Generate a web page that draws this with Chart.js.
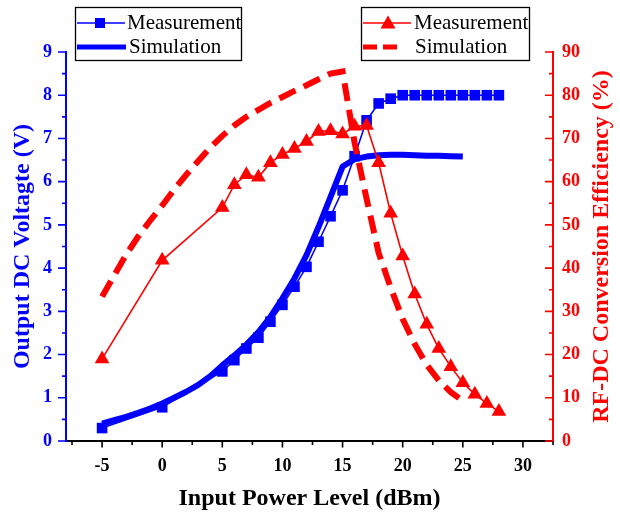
<!DOCTYPE html>
<html>
<head>
<meta charset="utf-8">
<script src="https://cdn.jsdelivr.net/npm/chart.js@4.4.1/dist/chart.umd.min.js"></script>
<style>
html,body{margin:0;padding:0;background:#fff;}
#wrap{width:620px;height:514px;position:relative;}
canvas{display:block;}
</style>
</head>
<body>
<div id="wrap"><canvas id="c" width="620" height="514"></canvas></div>
<script>
// ---------- data ----------
const xMeasured = [-5,0,5,6,7,8,9,10,11,12,13,14,15,16,17,18,19,20,21,22,23,24,25,26,27,28];
const voltageMeasured = [0.30,0.78,1.61,1.87,2.14,2.39,2.76,3.15,3.57,4.03,4.61,5.20,5.80,6.59,7.42,7.81,7.92,8.00,8.00,8.00,8.00,8.00,8.00,8.00,8.00,8.00];
const effMeasured = [19.0,41.8,54.0,59.3,61.6,61.0,64.4,66.3,67.7,69.3,71.6,71.8,71.0,72.8,73.0,64.4,52.7,42.8,34.0,27.0,21.4,17.2,13.5,10.8,8.7,6.8];

const xSimulated = [-5,-4,-3,-2,-1,0,1,2,3,4,5,6,7,8,9,10,11,12,13,14,15,16,17,18,19,20,21,22,23,24,25];
const voltageSimulated = [0.40,0.48,0.56,0.65,0.75,0.87,1.00,1.14,1.30,1.50,1.75,1.98,2.23,2.52,2.87,3.30,3.76,4.30,4.95,5.65,6.35,6.52,6.58,6.61,6.62,6.62,6.61,6.60,6.60,6.59,6.58];
const effSimulated = [33.4,38.3,43.1,47.3,51.0,54.5,58.2,61.6,64.8,67.9,70.6,73.0,75.0,76.6,78.2,79.6,81.0,82.3,83.7,85.0,85.5,69.0,56.0,43.5,35.5,28.2,22.4,17.6,14.0,11.3,9.3];

const xTickValues = [-5,0,5,10,15,20,25,30];
const xMinorValues = [-7.5,-2.5,2.5,7.5,12.5,17.5,22.5,27.5,32.5];
const yTickValues = [0,1,2,3,4,5,6,7,8,9];
const yMinorValues = [0.5,1.5,2.5,3.5,4.5,5.5,6.5,7.5,8.5];
const y1TickValues = [0,10,20,30,40,50,60,70,80,90];
const y1MinorValues = [5,15,25,35,45,55,65,75,85];

const legendLabelsLeft = ['Measurement','Simulation'];
const legendLabelsRight = ['Measurement','Simulation'];
const rightAxisTitle = 'RF-DC Conversion Efficiency (%)';

// ---------- styles ----------
const BLUE = '#0000ff';
const RED = '#ff0000';
const SERIF = "'Liberation Serif','Times New Roman',serif";

const toXY = (xs, ys) => xs.map((x, i) => ({x: x, y: ys[i]}));

// tick marks (major + minor) drawn from the scales, plus right-axis title
const tickPlugin = {
  id: 'axisTickMarks',
  afterDraw(chart) {
    const {ctx, chartArea: ca, scales} = chart;
    const sx = scales.x, sy = scales.y, sy1 = scales.y1;
    ctx.save();
    ctx.lineWidth = 1.6;
    ctx.strokeStyle = '#000';
    ctx.beginPath();
    xTickValues.forEach(v => { const p = sx.getPixelForValue(v); ctx.moveTo(p, ca.bottom); ctx.lineTo(p, ca.bottom + 6.5); });
    xMinorValues.forEach(v => { const p = sx.getPixelForValue(v); ctx.moveTo(p, ca.bottom); ctx.lineTo(p, ca.bottom + 4); });
    ctx.stroke();
    ctx.strokeStyle = BLUE;
    ctx.beginPath();
    yTickValues.forEach(v => { const p = sy.getPixelForValue(v); ctx.moveTo(ca.left, p); ctx.lineTo(ca.left - 8, p); });
    yMinorValues.forEach(v => { const p = sy.getPixelForValue(v); ctx.moveTo(ca.left, p); ctx.lineTo(ca.left - 4, p); });
    ctx.stroke();
    ctx.strokeStyle = RED;
    ctx.beginPath();
    y1TickValues.forEach(v => { const p = sy1.getPixelForValue(v); ctx.moveTo(ca.right, p); ctx.lineTo(ca.right - 8, p); });
    y1MinorValues.forEach(v => { const p = sy1.getPixelForValue(v); ctx.moveTo(ca.right, p); ctx.lineTo(ca.right - 4, p); });
    ctx.stroke();
    // right axis title, reading bottom to top
    ctx.translate(602, (ca.top + ca.bottom) / 2);
    ctx.rotate(-Math.PI / 2);
    ctx.font = 'bold 24px ' + SERIF;
    ctx.fillStyle = RED;
    ctx.textAlign = 'center';
    ctx.textBaseline = 'middle';
    ctx.fillText(rightAxisTitle, 0, 0);
    ctx.restore();
  }
};

// two boxed legends
const legendPlugin = {
  id: 'dualLegend',
  afterDraw(chart) {
    const ctx = chart.ctx;
    ctx.save();
    ctx.font = '21px ' + SERIF;
    ctx.textBaseline = 'middle';
    ctx.textAlign = 'left';
    ctx.fillStyle = '#fff';
    ctx.fillRect(75, 7, 167, 54);
    ctx.strokeStyle = '#000';
    ctx.lineWidth = 1.3;
    ctx.strokeRect(75.5, 7.5, 166, 53);
    ctx.strokeStyle = BLUE; ctx.lineWidth = 1.6;
    ctx.beginPath(); ctx.moveTo(77, 23); ctx.lineTo(125, 23); ctx.stroke();
    ctx.fillStyle = BLUE; ctx.fillRect(95, 18, 10, 10);
    ctx.fillStyle = '#000'; ctx.fillText(legendLabelsLeft[0], 127, 23);
    ctx.strokeStyle = BLUE; ctx.lineWidth = 5;
    ctx.beginPath(); ctx.moveTo(77, 47); ctx.lineTo(126, 47); ctx.stroke();
    ctx.fillStyle = '#000'; ctx.fillText(legendLabelsLeft[1], 129, 47);
    ctx.fillStyle = '#fff';
    ctx.fillRect(361, 7, 169, 54);
    ctx.strokeStyle = '#000'; ctx.lineWidth = 1.3;
    ctx.strokeRect(361.5, 7.5, 168, 53);
    ctx.strokeStyle = RED; ctx.lineWidth = 1.6;
    ctx.beginPath(); ctx.moveTo(363, 23); ctx.lineTo(411, 23); ctx.stroke();
    ctx.fillStyle = RED;
    ctx.beginPath(); ctx.moveTo(388, 15.5); ctx.lineTo(395.5, 28.5); ctx.lineTo(380.5, 28.5); ctx.closePath(); ctx.fill();
    ctx.fillStyle = '#000'; ctx.fillText(legendLabelsRight[0], 414, 23);
    ctx.strokeStyle = RED; ctx.lineWidth = 5; ctx.setLineDash([14, 6]);
    ctx.beginPath(); ctx.moveTo(363, 47); ctx.lineTo(400, 47); ctx.stroke();
    ctx.setLineDash([]);
    ctx.fillStyle = '#000'; ctx.fillText(legendLabelsRight[1], 415, 47);
    ctx.restore();
  }
};

const tickFont = {family: SERIF, size: 18, weight: 'bold'};
const titleFont = {family: SERIF, size: 24, weight: 'bold'};

new Chart(document.getElementById('c'), {
  type: 'line',
  data: {
    datasets: [
      {
        label: 'Measurement (efficiency)',
        data: toXY(xMeasured, effMeasured),
        yAxisID: 'y1',
        borderColor: RED, backgroundColor: RED,
        borderWidth: 1.6,
        pointStyle: 'triangle', pointRadius: 8.5, pointBorderWidth: 0,
        tension: 0
      },
      {
        label: 'Simulation (efficiency)',
        data: toXY(xSimulated, effSimulated),
        yAxisID: 'y1',
        borderColor: RED,
        borderWidth: 6,
        borderDash: [18, 9],
        pointRadius: 0,
        tension: 0
      },
      {
        label: 'Measurement (voltage)',
        data: toXY(xMeasured, voltageMeasured),
        yAxisID: 'y',
        borderColor: BLUE, backgroundColor: BLUE,
        borderWidth: 1.6,
        pointStyle: 'rect', pointRadius: 7.5, pointBorderWidth: 0,
        tension: 0
      },
      {
        label: 'Simulation (voltage)',
        data: toXY(xSimulated, voltageSimulated),
        yAxisID: 'y',
        borderColor: BLUE,
        borderWidth: 6,
        pointRadius: 0,
        tension: 0,
        borderJoinStyle: 'round'
      }
    ]
  },
  options: {
    responsive: false,
    animation: false,
    devicePixelRatio: 1,
    layout: {padding: {top: 52, left: 0, right: 0, bottom: 0}},
    plugins: {legend: {display: false}, tooltip: {enabled: false}},
    scales: {
      x: {
        type: 'linear',
        min: -8, max: 32.5,
        afterBuildTicks: s => { s.ticks = xTickValues.map(v => ({value: v})); },
        afterFit: s => { s.height = 73; },
        grid: {display: false, drawTicks: false},
        border: {display: true, color: '#000', width: 2},
        ticks: {font: tickFont, color: '#000', padding: 15, maxRotation: 0},
        title: {display: true, text: 'Input Power Level (dBm)', font: titleFont, color: '#000', padding: {top: 0, bottom: 1}}
      },
      y: {
        type: 'linear', position: 'left',
        min: 0, max: 9,
        afterBuildTicks: s => { s.ticks = yTickValues.map(v => ({value: v})); },
        afterFit: s => { s.width = 66; },
        grid: {display: false, drawTicks: false},
        border: {display: true, color: BLUE, width: 2},
        ticks: {font: tickFont, color: BLUE, padding: 14},
        title: {display: true, text: 'Output DC Voltagte (V)', font: titleFont, color: BLUE, padding: {top: 8, bottom: 0}}
      },
      y1: {
        type: 'linear', position: 'right',
        min: 0, max: 90,
        afterBuildTicks: s => { s.ticks = y1TickValues.map(v => ({value: v})); },
        afterFit: s => { s.width = 67; },
        grid: {display: false, drawTicks: false},
        border: {display: true, color: RED, width: 2},
        ticks: {font: tickFont, color: RED, padding: 9},
        title: {display: false}
      }
    }
  },
  plugins: [tickPlugin, legendPlugin]
});
</script>
</body>
</html>
